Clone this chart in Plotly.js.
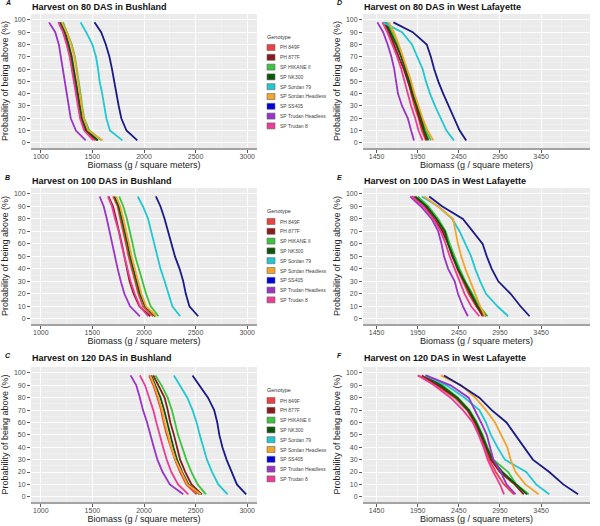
<!DOCTYPE html>
<html>
<head>
<meta charset="utf-8">
<script src="https://cdn.plot.ly/plotly-3.0.1.min.js"></script>
<style>
  html, body { margin: 0; padding: 0; background: #fff; }
  #plot { width: 600px; height: 526px; }
</style>
</head>
<body>
<div id="plot"></div>
<script>
// genotypes, in legend order
const genotypes = ["PH 849F", "PH 877F", "SP HIKANE II", "SP NK300", "SP Sordan 79",
  "SP Sordan Headless", "SP SS405", "SP Trudan Headless", "SP Trudan 8"];
const lineColors = ["#EE4040", "#8B1A1A", "#3DC43D", "#0B560B", "#22C8D0",
  "#F2A52A", "#1A1A86", "#9A34C8", "#EC3C98"];
const boxColors = ["#EE4040", "#8B1A1A", "#3DC43D", "#0B560B", "#22C8D0",
  "#F2A52A", "#0000DD", "#9A34C8", "#EC3C98"];

// probability of being above (%), shared by every curve
const prob = [98, 90, 80, 70, 60, 50, 40, 30, 20, 10, 2];
const probTicks = [0, 10, 20, 30, 40, 50, 60, 70, 80, 90, 100];
const bushlandTicks = [1000, 1500, 2000, 2500, 3000];
const lafayetteTicks = [1450, 1950, 2450, 2950, 3450];

// biomass (g / m2) at each prob level, one row per genotype
const bushland80 = [
  [1180, 1225, 1260, 1290, 1310, 1330, 1350, 1370, 1390, 1430, 1530],
  [1175, 1220, 1255, 1285, 1305, 1325, 1345, 1365, 1390, 1435, 1545],
  [1215, 1255, 1300, 1330, 1350, 1365, 1385, 1400, 1420, 1470, 1590],
  [1190, 1235, 1270, 1300, 1320, 1340, 1360, 1380, 1400, 1445, 1555],
  [1385, 1440, 1500, 1535, 1555, 1570, 1595, 1615, 1635, 1670, 1790],
  [1205, 1250, 1295, 1325, 1345, 1360, 1380, 1395, 1415, 1460, 1600],
  [1520, 1585, 1630, 1665, 1690, 1710, 1735, 1755, 1780, 1830, 1935],
  [1080, 1140, 1175, 1195, 1215, 1230, 1250, 1270, 1290, 1340, 1435],
  [1170, 1215, 1250, 1280, 1300, 1320, 1340, 1360, 1380, 1420, 1510]
];
const bushland100 = [
  [1700, 1745, 1770, 1800, 1825, 1850, 1880, 1910, 1945, 1990, 2090],
  [1655, 1700, 1730, 1760, 1785, 1810, 1835, 1860, 1900, 1955, 2060],
  [1760, 1800, 1835, 1865, 1890, 1915, 1950, 1985, 2020, 2065, 2140],
  [1715, 1755, 1785, 1815, 1840, 1865, 1895, 1925, 1960, 2010, 2110],
  [1940, 1990, 2040, 2070, 2095, 2125, 2160, 2200, 2235, 2275, 2350],
  [1730, 1770, 1800, 1830, 1855, 1880, 1910, 1940, 1975, 2020, 2120],
  [2115, 2160, 2200, 2235, 2270, 2300, 2345, 2380, 2405, 2440, 2525],
  [1570, 1610, 1640, 1665, 1690, 1715, 1745, 1775, 1810, 1865, 1960],
  [1650, 1690, 1720, 1755, 1780, 1810, 1840, 1870, 1910, 1960, 2040]
];
const bushland120 = [
  [2050, 2090, 2130, 2165, 2190, 2220, 2260, 2300, 2350, 2410, 2510],
  [2090, 2140, 2200, 2230, 2255, 2290, 2320, 2350, 2400, 2460, 2560],
  [2110, 2170, 2230, 2270, 2300, 2330, 2370, 2410, 2460, 2520, 2600],
  [2070, 2110, 2160, 2195, 2225, 2250, 2285, 2320, 2370, 2430, 2540],
  [2290, 2350, 2420, 2470, 2510, 2540, 2575, 2610, 2660, 2720, 2810],
  [2060, 2100, 2140, 2175, 2200, 2230, 2265, 2305, 2360, 2420, 2550],
  [2470, 2540, 2620, 2680, 2710, 2730, 2760, 2800, 2850, 2900, 2990],
  [1870, 1925, 1960, 1990, 2030, 2060, 2095, 2130, 2180, 2250, 2380],
  [1960, 2010, 2050, 2090, 2120, 2150, 2185, 2220, 2265, 2330, 2430]
];
const lafayette80 = [
  [1540, 1610, 1680, 1750, 1800, 1840, 1870, 1910, 1960, 2000, 2050],
  [1550, 1600, 1660, 1720, 1780, 1830, 1880, 1930, 1970, 2020, 2060],
  [1580, 1640, 1710, 1760, 1810, 1860, 1900, 1950, 2000, 2050, 2110],
  [1560, 1620, 1690, 1750, 1800, 1850, 1890, 1940, 1990, 2030, 2080],
  [1530, 1760, 1880, 1950, 2010, 2050, 2100, 2160, 2230, 2300, 2390],
  [1600, 1660, 1720, 1770, 1820, 1870, 1910, 1960, 2010, 2070, 2140],
  [1655, 1890, 2060, 2110, 2150, 2200, 2260, 2330, 2400, 2460, 2540],
  [1460, 1530, 1585, 1630, 1665, 1690, 1710, 1760, 1830, 1870, 1905],
  [1520, 1580, 1640, 1700, 1750, 1790, 1830, 1870, 1920, 1960, 2010]
];
const lafayette100 = [
  [1900, 2050, 2170, 2260, 2330, 2380, 2430, 2500, 2570, 2660, 2760],
  [1880, 2040, 2150, 2250, 2320, 2370, 2440, 2510, 2590, 2670, 2740],
  [1950, 2080, 2200, 2290, 2340, 2400, 2460, 2530, 2620, 2700, 2800],
  [1920, 2060, 2180, 2280, 2320, 2380, 2440, 2520, 2600, 2680, 2780],
  [2000, 2200, 2370, 2460, 2530, 2600, 2650, 2710, 2780, 2920, 3050],
  [2030, 2200, 2380, 2410, 2440, 2480, 2530, 2590, 2650, 2710, 2770],
  [2090, 2250, 2500, 2620, 2740, 2790, 2850, 2930, 3080, 3200, 3310],
  [1860, 1990, 2120, 2200, 2240, 2270, 2320, 2400, 2440, 2500, 2560],
  [1880, 2020, 2140, 2230, 2290, 2340, 2400, 2460, 2520, 2600, 2700]
];
const lafayette120 = [
  [1950, 2180, 2400, 2550, 2640, 2700, 2760, 2820, 2900, 3000, 3120],
  [2000, 2200, 2420, 2560, 2650, 2720, 2780, 2840, 2950, 3130, 3240],
  [2050, 2250, 2440, 2580, 2670, 2740, 2800, 2870, 3050, 3150, 3300],
  [2040, 2230, 2430, 2570, 2660, 2730, 2790, 2860, 2980, 3140, 3280],
  [2040, 2300, 2520, 2700, 2780, 2840, 2920, 3010, 3270, 3390, 3550],
  [2230, 2480, 2650, 2780, 2890, 2970, 3040, 3080, 3140, 3260, 3420],
  [2270, 2470, 2700, 2850, 3030, 3140, 3250, 3350, 3550, 3720, 3900],
  [2050, 2350, 2570, 2650, 2720, 2790, 2830, 2870, 2960, 3030, 3140],
  [1960, 2150, 2350, 2500, 2620, 2690, 2750, 2800, 2870, 2950, 3000]
];

const panels = [
  { letter: "A", title: "Harvest on 80 DAS in Bushland", data: bushland80, col: 0, row: 0 },
  { letter: "B", title: "Harvest on 100 DAS in Bushland", data: bushland100, col: 0, row: 1 },
  { letter: "C", title: "Harvest on 120 DAS in Bushland", data: bushland120, col: 0, row: 2 },
  { letter: "D", title: "Harvest on 80 DAS in West Lafayette", data: lafayette80, col: 1, row: 0 },
  { letter: "E", title: "Harvest on 100 DAS in West Lafayette", data: lafayette100, col: 1, row: 1 },
  { letter: "F", title: "Harvest on 120 DAS in West Lafayette", data: lafayette120, col: 1, row: 2 }
];

// page geometry in pixels
const W = 600, H = 526;
const FONT = "Liberation Sans, Arial, sans-serif";
const colX = [[31, 257], [363, 590]];
const rowY = [[14, 148], [188, 324], [367, 502]];
const titleY = [7, 181, 358];
const letterX = [3, 335];
const letterY = [3, 177, 355];
const xRanges = [[905, 3095], [1285, 4045]];
const xTicks = [bushlandTicks, lafayetteTicks];

function px(x) { return x / W; }
function py(y) { return 1 - y / H; }
function halfSteps(ticks) {
  const step = ticks[1] - ticks[0];
  return ticks.map(function (t) { return t + step / 2; });
}

const traces = [];
const layout = {
  width: W,
  height: H,
  margin: { l: 0, r: 0, t: 0, b: 0 },
  paper_bgcolor: "#ffffff",
  plot_bgcolor: "#EBEBEB",
  showlegend: false,
  font: { family: FONT, color: "#333" },
  shapes: [],
  annotations: []
};

panels.forEach(function (p, i) {
  const n = i + 1;
  const sfx = n === 1 ? "" : String(n);
  const xa = "x" + sfx, ya = "y" + sfx;
  const c = p.col, r = p.row;

  p.data.forEach(function (xs, g) {
    traces.push({
      x: xs,
      y: prob,
      xaxis: xa,
      yaxis: ya,
      type: "scatter",
      mode: "lines",
      name: genotypes[g],
      line: { color: lineColors[g], width: 1.8 },
      hoverinfo: "x+y+name"
    });
  });

  layout["xaxis" + sfx] = {
    domain: [px(colX[c][0]), px(colX[c][1])],
    anchor: ya,
    range: xRanges[c],
    tickvals: xTicks[c],
    ticks: "outside",
    ticklen: 3,
    tickwidth: 0.8,
    tickcolor: "#333",
    ticklabelstandoff: -2,
    tickfont: { size: 7, color: "#4D4D4D" },
    showgrid: true,
    gridcolor: "#ffffff",
    gridwidth: 0.9,
    minor: { tickvals: halfSteps(xTicks[c]), showgrid: true, gridcolor: "#F6F6F6", gridwidth: 0.5 },
    zeroline: false,
    showline: true,
    linecolor: "#A3A3A3",
    linewidth: 1.5,
    title: { text: "Biomass (g / square meters)", font: { size: 9, color: "#222" }, standoff: 0 },
    fixedrange: true
  };
  layout["yaxis" + sfx] = {
    domain: [py(rowY[r][1]), py(rowY[r][0])],
    anchor: xa,
    range: [-4.2, 104.8],
    tickvals: probTicks,
    ticks: "outside",
    ticklen: 3,
    tickwidth: 0.8,
    tickcolor: "#333",
    tickfont: { size: 7, color: "#4D4D4D" },
    showgrid: true,
    gridcolor: "#ffffff",
    gridwidth: 0.9,
    minor: { tickvals: halfSteps(probTicks), showgrid: true, gridcolor: "#F6F6F6", gridwidth: 0.5 },
    zeroline: false,
    showline: false,
    title: { text: "Probability of being above (%)", font: { size: 9, color: "#222" }, standoff: 3 },
    fixedrange: true
  };

  // panel title and letter
  layout.annotations.push({
    xref: "paper", yref: "paper",
    x: px(colX[c][0] - 1), y: py(titleY[r]),
    xanchor: "left", yanchor: "middle",
    text: p.title, showarrow: false,
    font: { size: 9, weight: "bold", color: "#111" }
  });
  layout.annotations.push({
    xref: "paper", yref: "paper",
    x: px(letterX[c]), y: py(letterY[r]),
    xanchor: "left", yanchor: "middle",
    text: p.letter, showarrow: false,
    font: { size: 7, weight: "bold", style: "italic", color: "#111" }
  });

  // ggplot-style legend beside each Bushland panel
  if (c === 0) {
    const top = rowY[r][0];
    layout.annotations.push({
      xref: "paper", yref: "paper",
      x: px(265), y: py(top + 23),
      xanchor: "left", yanchor: "middle",
      text: "Genotype", showarrow: false,
      font: { size: 5.5, color: "#333" }
    });
    genotypes.forEach(function (name, g) {
      const yc = top + 33.5 + g * 9.8;
      layout.shapes.push({
        type: "rect", xref: "paper", yref: "paper",
        x0: px(267), x1: px(275), y0: py(yc - 3), y1: py(yc + 3),
        fillcolor: boxColors[g], line: { width: 0.6, color: "#666" }
      });
      layout.annotations.push({
        xref: "paper", yref: "paper",
        x: px(277.5), y: py(yc),
        xanchor: "left", yanchor: "middle",
        text: name, showarrow: false,
        font: { size: 5, color: "#444" }
      });
    });
  }
});

Plotly.newPlot("plot", traces, layout, { displayModeBar: false, staticPlot: true });
</script>
</body>
</html>
